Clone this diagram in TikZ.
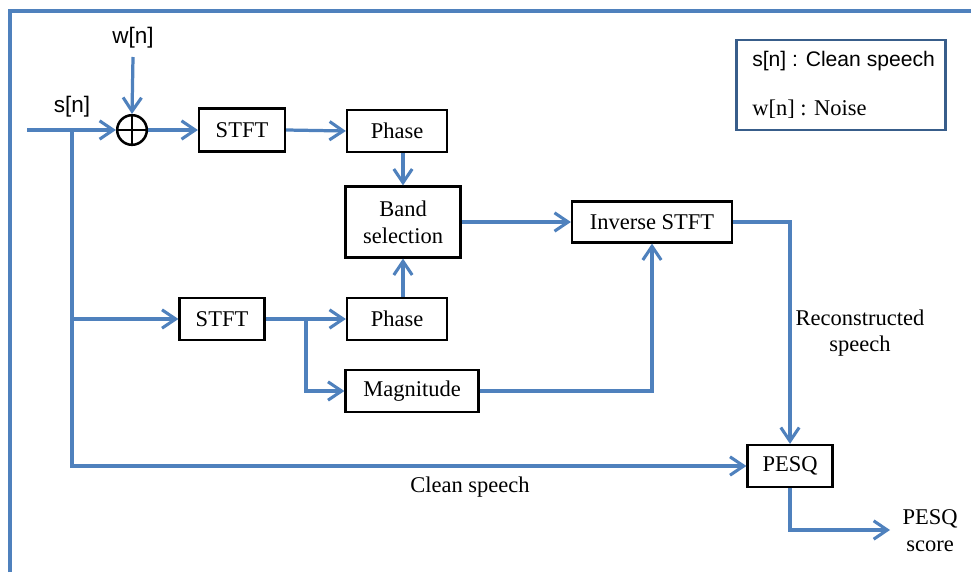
\documentclass[tikz,border=0pt]{standalone}
\usepackage{fontspec}
\setmainfont{Liberation Serif}
\setsansfont{Liberation Sans}
\usepackage{tikz}
\usetikzlibrary{arrows.meta}
\definecolor{lineblue}{RGB}{79,129,189}
\definecolor{legendblue}{RGB}{56,93,138}
\tikzset{
	blk/.style={draw=black, line width=1.6pt, fill=white, inner sep=0pt, font=\fontsize{16}{19}\selectfont},
	sig/.style={draw=lineblue, line width=2.3pt},
	sigarrow/.style={sig, -{Straight Barb[length=3.4mm, width=4.6mm, line width=2.2pt]}},
	lbl/.style={inner sep=0pt, align=center, font=\fontsize{16}{19}\selectfont},
	sflbl/.style={lbl, font=\sffamily\fontsize{16}{19}\selectfont}
}
\begin{document}
\begin{tikzpicture}[x=0.025cm, y=-0.025cm]
	\useasboundingbox (0,0) rectangle (971,572);
	\draw[sig] (10,572) -- (10,11) -- (971,11);
	\node[blk, minimum width=2.15cm, minimum height=1.075cm] (stft1) at (242,130) {STFT};
	\node[blk, minimum width=2.5cm, minimum height=1.05cm] (ph1) at (397,131) {Phase};
	\node[blk, minimum width=2.875cm, minimum height=1.775cm, align=center] (band) at (403,222) {Band\\selection};
	\node[blk, minimum width=4cm, minimum height=1.025cm] (inv) at (652,222) {Inverse STFT};
	\node[blk, minimum width=2.125cm, minimum height=1.05cm] (stft2) at (222,319) {STFT};
	\node[blk, minimum width=2.5cm, minimum height=1.05cm] (ph2) at (397,319) {Phase};
	\node[blk, minimum width=3.325cm, minimum height=1.05cm] (mag) at (412,391) {Magnitude};
	\node[blk, minimum width=2.125cm, minimum height=1.05cm] (pesq) at (790,466) {PESQ};
	\node[draw=black, line width=1.8pt, circle, minimum size=0.74cm, inner sep=0pt] (sum) at (132,130) {};
	\draw[line width=1.8pt] (sum.north) -- (sum.south) (sum.west) -- (sum.east);
	\node[draw=legendblue, line width=1.5pt, minimum width=5.225cm, minimum height=2.25cm] (legend) at (841,85) {};
	\node[sflbl, anchor=west, font=\sffamily\fontsize{15}{18}\selectfont] (lgs) at (752,61) {s[n] : Clean speech};
	\node[lbl, anchor=west] (lgw) at (752,109) {w[n] : Noise};
	\node[sflbl] (wlbl) at (133,38) {w[n]};
	\node[sflbl] (slbl) at (72,107) {s[n]};
	\node[lbl] (clean) at (470,487) {Clean speech};
	\node[lbl] (recon) at (860,333) {Reconstructed\\speech};
	\node[lbl] (score) at (930,531) {PESQ\\score};
	\coordinate (in) at (27,130);
	\coordinate (sp) at (72,130);
	\coordinate (wtop) at (133,57);
	\coordinate (br) at (306,319);
	\coordinate (out) at (890,530);
	\draw[sigarrow] (wtop) -- (sum.north);
	\draw[sigarrow] (in) -- (sum.west);
	\draw[sigarrow] (sum.east) -- (stft1.west);
	\draw[sigarrow] (stft1.east) -- (ph1.west);
	\draw[sigarrow] (ph1.south -| band.north) -- (band.north);
	\draw[sigarrow] (band.east) -- (inv.west);
	\draw[sigarrow] (inv.east) -| (pesq.north);
	\draw[sigarrow] (sp) |- (pesq.west);
	\draw[sigarrow] (sp |- stft2.west) -- (stft2.west);
	\draw[sigarrow] (stft2.east) -- (ph2.west);
	\draw[sigarrow] (br) |- (mag.west);
	\draw[sigarrow] (ph2.north -| band.south) -- (band.south);
	\draw[sigarrow] (mag.east) -| (inv.south);
	\draw[sigarrow] (pesq.south) |- (out);
\end{tikzpicture}
\end{document}
